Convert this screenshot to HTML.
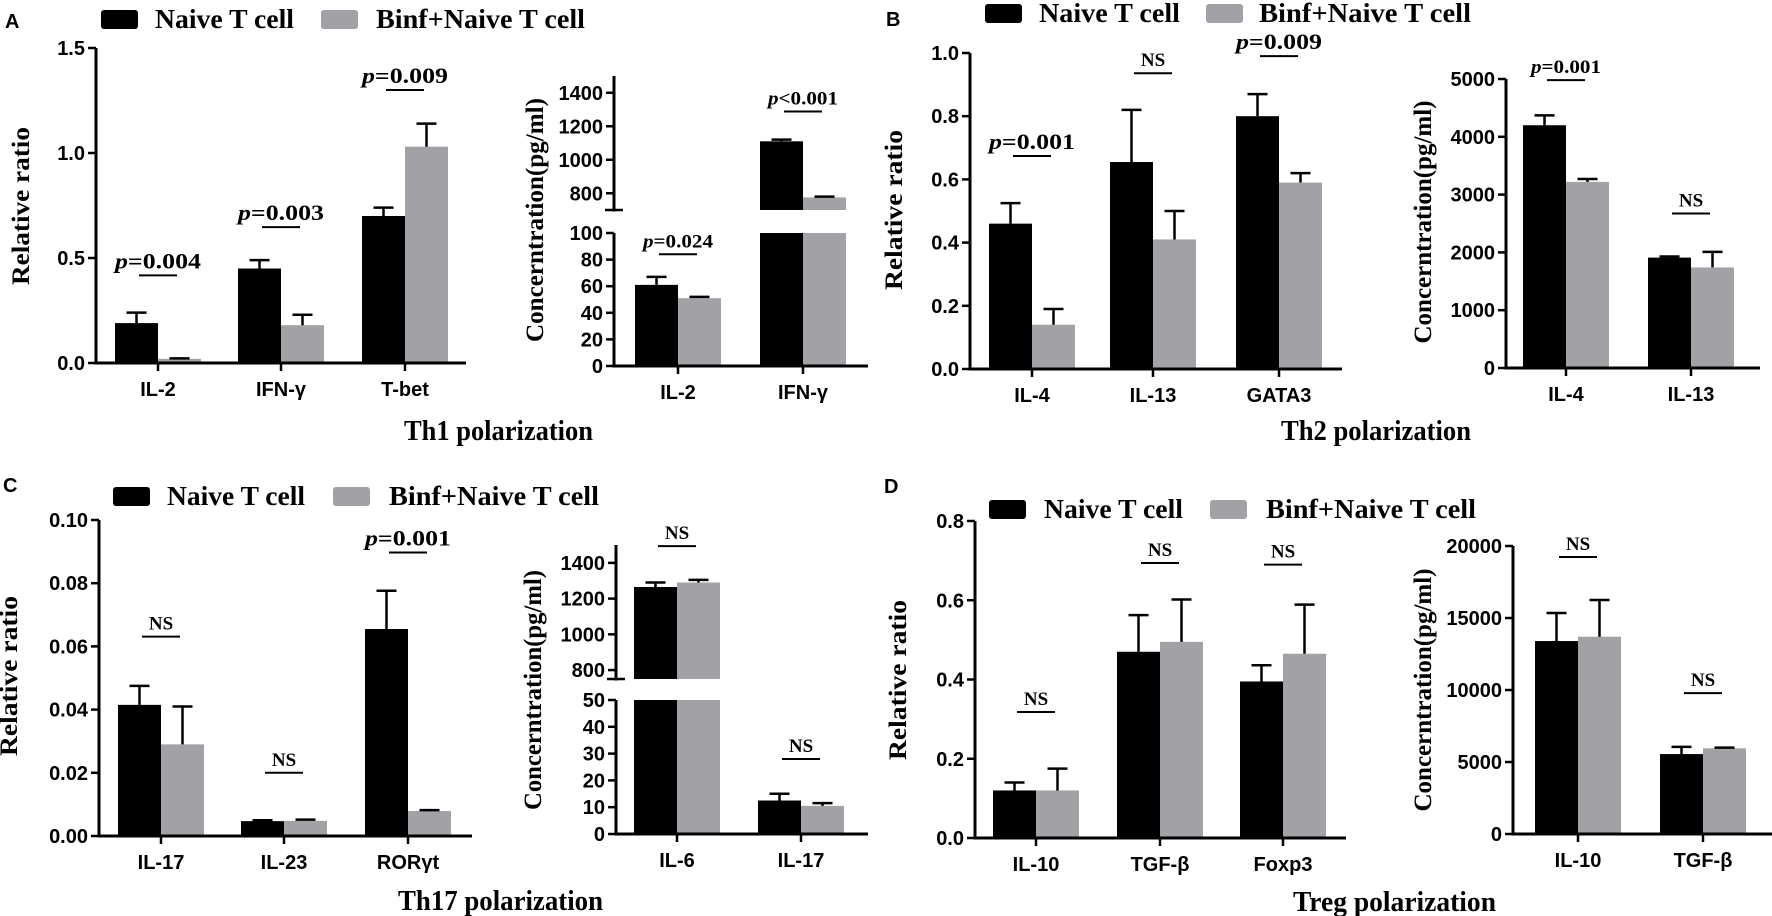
<!DOCTYPE html>
<html><head><meta charset="utf-8">
<style>
html,body{margin:0;padding:0;background:#fff;}
svg{display:block;}
.tk{font-family:"Liberation Sans",sans-serif;font-weight:bold;font-size:20px;fill:#000;}
.ser{font-family:"Liberation Serif",serif;font-weight:bold;fill:#000;}
</style></head>
<body>
<svg id="fig" width="1772" height="916" viewBox="0 0 1772 916" xmlns="http://www.w3.org/2000/svg"></svg>
<script>
// ---------- DATA ----------
// Panel A
const aLCats = ["IL-2","IFN-γ","T-bet"];
const aLNaive = [0.19,0.45,0.70];
const aLNaiveErr = [0.24,0.49,0.74];
const aLBinf = [0.02,0.18,1.03];
const aLBinfErr = [0.022,0.23,1.14];
const aLTicks = ["0.0","0.5","1.0","1.5"];
const aLSig = ["p=0.004","p=0.003","p=0.009"];
const aLSigY = [0.417,0.647,1.30];

const aRCats = ["IL-2","IFN-γ"];
const aRNaive = [61,1110];
const aRNaiveErr = [67,1120];
const aRBinf = [51,775];
const aRBinfErr = [52,780];
const aRTicksLow = [0,20,40,60,80,100];
const aRTicksHigh = [800,1000,1200,1400];
const aRSig = ["p=0.024","p<0.001"];
const aRSigY = [84,1288];

// Panel B
const bLCats = ["IL-4","IL-13","GATA3"];
const bLNaive = [0.46,0.655,0.80];
const bLNaiveErr = [0.525,0.82,0.87];
const bLBinf = [0.14,0.41,0.59];
const bLBinfErr = [0.19,0.50,0.62];
const bLTicks = ["0.0","0.2","0.4","0.6","0.8","1.0"];
const bLSig = ["p=0.001","NS","p=0.009"];
const bLSigY = [0.674,0.936,0.99];

const bRCats = ["IL-4","IL-13"];
const bRNaive = [4200,1910];
const bRNaiveErr = [4370,1930];
const bRBinf = [3220,1740];
const bRBinfErr = [3270,2010];
const bRTicks = [0,1000,2000,3000,4000,5000];
const bRSig = ["p=0.001","NS"];
const bRSigY = [4980,2673];

// Panel C
const cLCats = ["IL-17","IL-23","RORγt"];
const cLNaive = [0.0415,0.0047,0.0655];
const cLNaiveErr = [0.0475,0.0050,0.0776];
const cLBinf = [0.029,0.0048,0.0079];
const cLBinfErr = [0.041,0.0052,0.0082];
const cLTicks = ["0.00","0.02","0.04","0.06","0.08","0.10"];
const cLSig = ["NS","NS","p=0.001"];
const cLSigY = [0.0631,0.020,0.0897];

const cRCats = ["IL-6","IL-17"];
const cRNaive = [1265,12.5];
const cRNaiveErr = [1290,15];
const cRBinf = [1290,10.5];
const cRBinfErr = [1305,11.5];
const cRTicksLow = [0,10,20,30,40,50];
const cRTicksHigh = [800,1000,1200,1400];
const cRSig = ["NS","NS"];
const cRSigY = [1494,28];

// Panel D
const dLCats = ["IL-10","TGF-β","Foxp3"];
const dLNaive = [0.12,0.47,0.395];
const dLNaiveErr = [0.14,0.5625,0.436];
const dLBinf = [0.12,0.495,0.465];
const dLBinfErr = [0.175,0.602,0.589];
const dLTicks = ["0.0","0.2","0.4","0.6","0.8"];
const dLSig = ["NS","NS","NS"];
const dLSigY = [0.318,0.694,0.69];

const dRCats = ["IL-10","TGF-β"];
const dRNaive = [13400,5550];
const dRNaiveErr = [15350,6050];
const dRBinf = [13700,5950];
const dRBinfErr = [16250,6000];
const dRTicks = [0,5000,10000,15000,20000];
const dRSig = ["NS","NS"];
const dRSigY = [19240,9780];

const legendLabels = ["Naive T cell","Binf+Naive T cell"];

// ---------- DRAWING ----------
const NS = "http://www.w3.org/2000/svg";
const svg = document.getElementById('fig');
const GRAY = "#a2a2a6";
function el(tag, attrs, parent){
  const e = document.createElementNS(NS, tag);
  for (const k in attrs) e.setAttribute(k, attrs[k]);
  (parent||svg).appendChild(e);
  return e;
}
function txt(str, attrs, parent){ const e = el('text', attrs, parent); e.textContent = str; return e; }

function sigLabel(g, s, cx, ly, small){
  const line = el('line',{x1:cx-19,x2:cx+19,y1:ly,y2:ly,stroke:'#000','stroke-width':2},g);
  
  
  const fs = small?19:22;
  const t = el('text',{x:cx,y:ly-7,'text-anchor':'middle','class':'ser','font-size':s==='NS'?19:fs},g);
  
  
  if (s.startsWith('p')){
    t.setAttribute('textLength', small?70:86);
    t.setAttribute('lengthAdjust','spacingAndGlyphs');
    const p = el('tspan',{'font-style':'italic'},t); p.textContent='p';
    const r = el('tspan',{},t); r.textContent=s.slice(1);
  } else { t.textContent = s; }
}

// segments: [{dom:[a,b], y0, y1, ticks:[values], labels:[strings]}]
function panel(cfg){
  const g = el('g',{});
  
  
  const ax = cfg.axisX, bw = 43;
  const bottom = cfg.segs[0].y0;
  // bars
  cfg.cats.forEach((c,i)=>{
    const cx = cfg.cx[i];
    [[cfg.naive,cfg.naiveErr,'#000',cx-bw,'naive'],[cfg.binf,cfg.binfErr,GRAY,cx,'binf']].forEach(([vals,errs,col,x,nm])=>{
      const v = vals[i], e = errs[i];
      cfg.segs.forEach(sg=>{
        const sc = u => sg.y0 + (u-sg.dom[0])/(sg.dom[1]-sg.dom[0])*(sg.y1-sg.y0);
        if (v > sg.dom[0]){
          const top = sc(Math.min(v, sg.dom[1]));
          const r = el('rect',{x:x,y:top,width:bw,height:sg.y0-top,fill:col},g);
          
          
          if (v <= sg.dom[1] && e > v){
            const ey = sc(Math.min(e, sg.dom[1]));
            const ex = x + bw/2;
            const eb = el('path',{d:`M${ex},${top} V${ey} M${ex-10},${ey} H${ex+10}`,stroke:'#000','stroke-width':2.5,fill:'none'},g);
            
            
          }
        }
      });
    });
    // category label + tick
    el('line',{x1:cx,x2:cx,y1:bottom,y2:bottom+8,stroke:'#000','stroke-width':2.5},g);
    const cl = txt(c,{x:cx,y:bottom+33,'text-anchor':'middle','class':'tk','font-size':21},g);
    
    
    // significance
    const sv = cfg.sigY[i];
    cfg.segs.forEach(sg=>{
      if (sv>=sg.dom[0] && sv<=sg.dom[1]*1.02){
        const ly = sg.y0 + (sv-sg.dom[0])/(sg.dom[1]-sg.dom[0])*(sg.y1-sg.y0);
        sigLabel(g, cfg.sig[i], cx, ly, cfg.small && cfg.small[i]);
      }
    });
  });
  // axes
  el('line',{x1:ax-1.5,x2:cfg.axisEnd,y1:bottom,y2:bottom,stroke:'#000','stroke-width':3},g);
  cfg.segs.forEach((sg,si)=>{
    const sc = u => sg.y0 + (u-sg.dom[0])/(sg.dom[1]-sg.dom[0])*(sg.y1-sg.y0);
    const ya = el('line',{x1:ax,x2:ax,y1:sg.y0+1.5,y2:sg.y1,stroke:'#000','stroke-width':3},g);
    
    
    if (si>0) el('line',{x1:ax-9,x2:ax+9,y1:sg.y0,y2:sg.y0,stroke:'#000','stroke-width':2.5},g);
    sg.ticks.forEach((t,k)=>{
      const y = sc(t);
      el('line',{x1:ax-8,x2:ax,y1:y,y2:y,stroke:'#000','stroke-width':2.5},g);
      const tl = txt(sg.labels?sg.labels[k]:String(t),{x:ax-11,y:y+7,'text-anchor':'end','class':'tk'},g);
      
      
    });
  });
  // y title
  const yt = txt(cfg.ytitle,{x:0,y:0,'class':'ser','font-size':25,'text-anchor':'middle',
    transform:`translate(${cfg.yt[0]+9},${cfg.yt[1]}) rotate(-90)`,textLength:cfg.yt[2],lengthAdjust:'spacingAndGlyphs'},g);
  
  
}

function legend(bx, gx, tx1, tx2, y0, w1, w2){
  const g = el('g',{});
  
  
  const r1 = el('rect',{x:bx,y:y0,width:37,height:19,rx:3,fill:'#000'},g);
  
  
  const t1 = txt(legendLabels[0],{x:tx1,y:y0+18,'class':'ser','font-size':27,textLength:w1,lengthAdjust:'spacingAndGlyphs'},g);
  
  
  const r2 = el('rect',{x:gx,y:y0,width:37,height:19,rx:3,fill:GRAY},g);
  
  
  const t2 = txt(legendLabels[1],{x:tx2,y:y0+18,'class':'ser','font-size':27,textLength:w2,lengthAdjust:'spacingAndGlyphs'},g);
  
  
}
function letter(s,x,y){
  const t = txt(s,{x:x,y:y,'class':'tk','font-size':25});
  
  
}
function xtitle(s,x1,x2,y){
  const t = txt(s,{x:x1,y:y,'class':'ser','font-size':29,textLength:x2-x1,lengthAdjust:'spacingAndGlyphs'});
  
  
}
const num = a => a.map(parseFloat);

// Panel A
letter('A',5,28); legend(101,321,155,376,10,139,209);
panel({name:'panel-a-relative',cats:aLCats,naive:aLNaive,naiveErr:aLNaiveErr,binf:aLBinf,binfErr:aLBinfErr,
  cx:[158,281,405],axisX:96,axisEnd:466,sig:aLSig,sigY:aLSigY,ytitle:'Relative ratio',yt:[20,206,158],
  segs:[{dom:[0,1.5],y0:363,y1:48,ticks:num(aLTicks),labels:aLTicks}]});
panel({name:'panel-a-concentration',cats:aRCats,naive:aRNaive,naiveErr:aRNaiveErr,binf:aRBinf,binfErr:aRBinfErr,
  cx:[678,803],axisX:614,axisEnd:868,sig:aRSig,sigY:aRSigY,small:[true,true],ytitle:'Concerntration(pg/ml)',yt:[534,220,244],
  segs:[{dom:[0,100],y0:366,y1:233,ticks:aRTicksLow},{dom:[700,1500],y0:210,y1:76,ticks:aRTicksHigh}]});
xtitle('Th1 polarization',404,593,440);

// Panel B
letter('B',886,26); legend(985,1206,1039,1259,4,141,212);
panel({name:'panel-b-relative',cats:bLCats,naive:bLNaive,naiveErr:bLNaiveErr,binf:bLBinf,binfErr:bLBinfErr,
  cx:[1032,1153,1279],axisX:970,axisEnd:1342,sig:bLSig,sigY:bLSigY,ytitle:'Relative ratio',yt:[893,210,160],
  segs:[{dom:[0,1.0],y0:369,y1:53,ticks:num(bLTicks),labels:bLTicks}]});
panel({name:'panel-b-concentration',cats:bRCats,naive:bRNaive,naiveErr:bRNaiveErr,binf:bRBinf,binfErr:bRBinfErr,
  cx:[1566,1691],axisX:1506,axisEnd:1760,sig:bRSig,sigY:bRSigY,small:[true,false],ytitle:'Concerntration(pg/ml)',yt:[1422,222,243],
  segs:[{dom:[0,5000],y0:368,y1:79,ticks:bRTicks}]});
xtitle('Th2 polarization',1281,1471,440);

// Panel C
letter('C',3,492); legend(113,333,167,389,487,138,210);
panel({name:'panel-c-relative',cats:cLCats,naive:cLNaive,naiveErr:cLNaiveErr,binf:cLBinf,binfErr:cLBinfErr,
  cx:[161,284,408],axisX:99,axisEnd:472,sig:cLSig,sigY:cLSigY,ytitle:'Relative ratio',yt:[8,676,160],
  segs:[{dom:[0,0.10],y0:836,y1:520,ticks:num(cLTicks),labels:cLTicks}]});
panel({name:'panel-c-concentration',cats:cRCats,naive:cRNaive,naiveErr:cRNaiveErr,binf:cRBinf,binfErr:cRBinfErr,
  cx:[677,801],axisX:616,axisEnd:868,sig:cRSig,sigY:cRSigY,ytitle:'Concerntration(pg/ml)',yt:[532,690,240],
  segs:[{dom:[0,50],y0:834,y1:700,ticks:cRTicksLow},{dom:[750,1500],y0:679,y1:545,ticks:cRTicksHigh}]});
xtitle('Th17 polarization',398,603,910);

// Panel D
letter('D',884,493); legend(989,1210,1044,1266,500,139,210);
panel({name:'panel-d-relative',cats:dLCats,naive:dLNaive,naiveErr:dLNaiveErr,binf:dLBinf,binfErr:dLBinfErr,
  cx:[1036,1160,1283],axisX:975,axisEnd:1346,sig:dLSig,sigY:dLSigY,ytitle:'Relative ratio',yt:[897,680,160],
  segs:[{dom:[0,0.8],y0:838,y1:521,ticks:num(dLTicks),labels:dLTicks}]});
panel({name:'panel-d-concentration',cats:dRCats,naive:dRNaive,naiveErr:dRNaiveErr,binf:dRBinf,binfErr:dRBinfErr,
  cx:[1578,1703],axisX:1513,axisEnd:1772,sig:dRSig,sigY:dRSigY,ytitle:'Concerntration(pg/ml)',yt:[1422,690,243],
  segs:[{dom:[0,20000],y0:834,y1:546,ticks:dRTicks}]});
xtitle('Treg polarization',1293,1496,911);
</script>
</body></html>
